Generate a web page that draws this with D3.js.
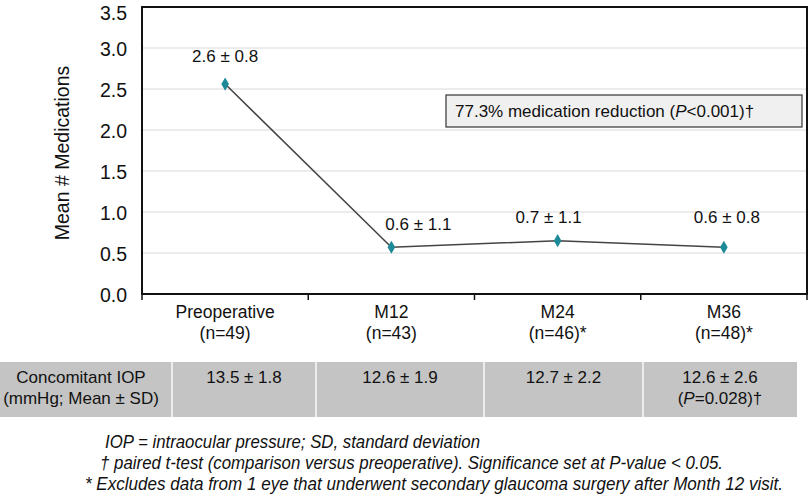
<!DOCTYPE html>
<html>
<head>
<meta charset="utf-8">
<script src="https://cdn.jsdelivr.net/npm/d3@7"></script>
<style>
  body { margin: 0; background: #fff; }
  svg { display: block; font-family: "Liberation Sans", Arial, sans-serif; }
</style>
</head>
<body>
<svg id="chart" width="810" height="499"></svg>
<script>
// ---- data ----
const categories = ["Preoperative", "M12", "M24", "M36"];
const categoryN = ["(n=49)", "(n=43)", "(n=46)*", "(n=48)*"];
const meanMeds = [2.56, 0.57, 0.65, 0.57];
const medLabels = ["2.6 ± 0.8", "0.6 ± 1.1", "0.7 ± 1.1", "0.6 ± 0.8"];
const yTicks = [0, 0.5, 1.0, 1.5, 2.0, 2.5, 3.0, 3.5];
const iopRowLabel = ["Concomitant IOP", "(mmHg; Mean ± SD)"];
const iopValues = ["13.5 ± 1.8", "12.6 ± 1.9", "12.7 ± 2.2", "12.6 ± 2.6"];
const iopNotes = ["", "", "", "P=0.028"];
const annotationText = "77.3% medication reduction";
const footnotes = [
  "IOP = intraocular pressure; SD, standard deviation",
  "† paired t-test (comparison versus preoperative). Significance set at P-value < 0.05.",
  "* Excludes data from 1 eye that underwent secondary glaucoma surgery after Month 12 visit."
];

// ---- layout ----
const svg = d3.select("#chart");
const plot = { left: 142, right: 807, top: 7, bottom: 294 };
const labelOffsets = [[0, -22], [27, -17], [-9, -18], [3, -24]];
const tableEdges = [0, 172, 316, 484, 643, 797];
const tableTop = 362, tableBottom = 417;
const footX = [105, 100, 85];
const footW = [375, 623, 698];
const footY = [448, 469, 490];

const x = d3.scaleBand().domain(categories).range([plot.left, plot.right]).padding(0);
const y = d3.scaleLinear().domain([0, 3.5]).range([plot.bottom, plot.top]);
const cx = c => x(c) + x.bandwidth() / 2;

// gridlines
svg.append("g").selectAll("line")
  .data(yTicks.filter(t => t > 0 && t < 3.5))
  .join("line")
  .attr("x1", plot.left).attr("x2", plot.right)
  .attr("y1", d => y(d)).attr("y2", d => y(d))
  .attr("stroke", "#d9d9d9").attr("stroke-width", 1.2);

// y axis labels
const yAxis = d3.axisLeft(y).tickValues(yTicks).tickFormat(d3.format(".1f")).tickSize(0).tickPadding(15);
const gy = svg.append("g").attr("transform", `translate(${plot.left},0)`).call(yAxis);
gy.select(".domain").remove();
gy.selectAll("text")
  .attr("font-size", 19.5).attr("fill", "#111").attr("font-family", "Liberation Sans, Arial, sans-serif")
  .attr("dy", d => d === 3.5 ? "0.62em" : "0.36em");

// y title
svg.append("text")
  .attr("transform", "translate(69,153) rotate(-90)")
  .attr("text-anchor", "middle")
  .attr("font-size", 19.5).attr("fill", "#111")
  .text("Mean # Medications");

// x axis labels (two lines)
const xl = svg.append("g");
categories.forEach((c, i) => {
  const t = xl.append("text").attr("text-anchor", "middle").attr("font-size", 17.5).attr("fill", "#111");
  t.append("tspan").attr("x", cx(c)).attr("y", 318).text(c);
  t.append("tspan").attr("x", cx(c)).attr("y", 339).text(categoryN[i]);
});

// bottom boundary ticks
const bounds = categories.map(c => x(c)).concat([plot.right]);
svg.append("g").selectAll("line").data(bounds).join("line")
  .attr("x1", d => d).attr("x2", d => d)
  .attr("y1", plot.bottom).attr("y2", plot.bottom + 6)
  .attr("stroke", "#111").attr("stroke-width", 1.5);

// frame
svg.append("rect")
  .attr("x", plot.left).attr("y", plot.top)
  .attr("width", plot.right - plot.left).attr("height", plot.bottom - plot.top)
  .attr("fill", "none").attr("stroke", "#111").attr("stroke-width", 2);

// annotation box
const ann = svg.append("g");
ann.append("rect").attr("x", 446).attr("y", 95).attr("width", 356).attr("height", 32)
  .attr("fill", "#f0f0f0").attr("stroke", "#333").attr("stroke-width", 1.2);
const at = ann.append("text").attr("x", 455).attr("y", 117).attr("font-size", 17).attr("fill", "#111");
at.append("tspan").text(annotationText + " (");
at.append("tspan").attr("font-style", "italic").text("P");
at.append("tspan").text("<0.001)†");

// line
const line = d3.line().x((d, i) => cx(categories[i])).y(d => y(d));
svg.append("path").datum(meanMeds).attr("d", line)
  .attr("fill", "none").attr("stroke", "#444").attr("stroke-width", 1.5);

// markers
svg.append("g").selectAll("path").data(meanMeds).join("path")
  .attr("d", d3.symbol().type(d3.symbolDiamond).size(50))
  .attr("transform", (d, i) => `translate(${cx(categories[i])},${y(d)})`)
  .attr("fill", "#1d8a98");

// data labels
svg.append("g").selectAll("text").data(meanMeds).join("text")
  .attr("x", (d, i) => cx(categories[i]) + labelOffsets[i][0])
  .attr("y", (d, i) => y(d) + labelOffsets[i][1])
  .attr("text-anchor", "middle").attr("font-size", 17).attr("fill", "#111")
  .text((d, i) => medLabels[i]);

// table
const tg = svg.append("g");
tg.append("rect").attr("x", tableEdges[0]).attr("y", tableTop)
  .attr("width", tableEdges[tableEdges.length - 1] - tableEdges[0]).attr("height", tableBottom - tableTop)
  .attr("fill", "#c4c4c4");
tg.selectAll("line.sep").data(tableEdges.slice(1, -1)).join("line")
  .attr("x1", d => d).attr("x2", d => d).attr("y1", tableTop).attr("y2", tableBottom)
  .attr("stroke", "#ececec").attr("stroke-width", 2);
const rl = tg.append("text").attr("text-anchor", "middle").attr("font-size", 17).attr("fill", "#111");
iopRowLabel.forEach((s, i) => rl.append("tspan").attr("x", 81).attr("y", 383 + i * 21).text(s));
iopValues.forEach((v, i) => {
  const mid = (tableEdges[i + 1] + tableEdges[i + 2]) / 2;
  const t = tg.append("text").attr("text-anchor", "middle").attr("font-size", 17).attr("fill", "#111");
  t.append("tspan").attr("x", mid).attr("y", 383).text(v);
  if (iopNotes[i]) {
    const t2 = tg.append("text").attr("text-anchor", "middle").attr("font-size", 17).attr("fill", "#111")
      .attr("x", mid).attr("y", 404);
    t2.append("tspan").text("(");
    t2.append("tspan").attr("font-style", "italic").text(iopNotes[i].slice(0, 1));
    t2.append("tspan").text(iopNotes[i].slice(1) + ")†");
  }
});

// footnotes
svg.append("g").selectAll("text").data(footnotes).join("text")
  .attr("x", (d, i) => footX[i]).attr("y", (d, i) => footY[i])
  .attr("font-size", 17.5).attr("font-style", "italic").attr("fill", "#111")
  .attr("textLength", (d, i) => footW[i]).attr("lengthAdjust", "spacingAndGlyphs")
  .text(d => d);
</script>
</body>
</html>
